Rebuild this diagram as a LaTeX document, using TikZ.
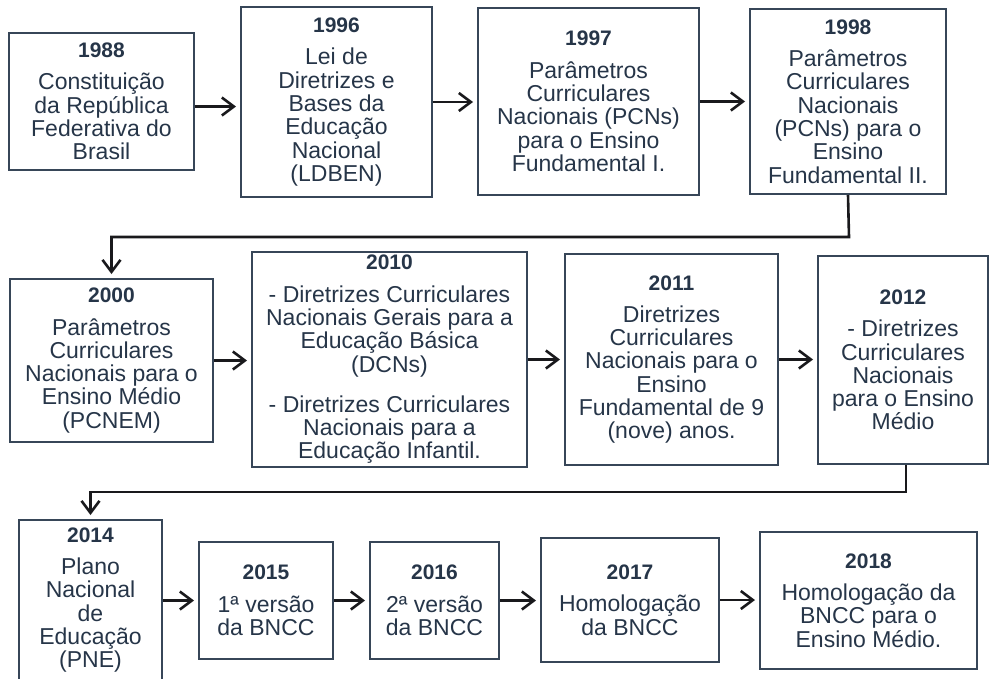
\documentclass[tikz,border=0pt]{standalone}
\usepackage{fontspec}
\setmainfont{Liberation Sans}
\usetikzlibrary{arrows.meta}
\definecolor{bordercol}{RGB}{55,70,88}
\definecolor{textcol}{RGB}{38,53,72}
\definecolor{arrowcol}{RGB}{25,25,28}
\newcommand{\yr}[1]{{\fontsize{21}{23.5}\selectfont\bfseries #1}\\[9pt]}
\begin{document}
\begin{tikzpicture}[x=1pt,y=-1pt,
  box/.style={draw=bordercol, line width=2pt, text=textcol, align=center,
    inner sep=0pt, font=\fontsize{23}{23.3}\selectfont},
  arr/.style={draw=arrowcol, line width=2.6pt,
    -{Straight Barb[length=12pt,width=18pt,line width=2.6pt]}, shorten >=4pt}]
\useasboundingbox (0,0) rectangle (992,678);
\clip (0,0) rectangle (992,678);
% row 1
\node[box, minimum width=185, minimum height=137] (n1988) at (101.5,101.5)
  {\yr{1988}Constituição\\da República\\Federativa do\\Brasil};
\node[box, minimum width=191, minimum height=190] (n1996) at (336.5,102)
  {\yr{1996}Lei de\\Diretrizes e\\Bases da\\Educação\\Nacional\\(LDBEN)};
\node[box, minimum width=221, minimum height=187] (n1997) at (588.5,101.5)
  {\yr{1997}Parâmetros\\Curriculares\\Nacionais (PCNs)\\para o Ensino\\Fundamental I.};
\node[box, minimum width=196, minimum height=185] (n1998) at (848,101.5)
  {\yr{1998}Parâmetros\\Curriculares\\Nacionais\\(PCNs) para o\\Ensino\\Fundamental II.};
% row 2
\node[box, minimum width=203, minimum height=163] (n2000) at (111.5,360.5)
  {\yr{2000}Parâmetros\\Curriculares\\Nacionais para o\\Ensino Médio\\(PCNEM)};
\node[box, minimum width=275, minimum height=215] (n2010) at (389.5,359.5)
  {\yr{2010}- Diretrizes Curriculares\\Nacionais Gerais para a\\Educação Básica\\(DCNs)\\[17pt]- Diretrizes Curriculares\\Nacionais para a\\Educação Infantil.};
\node[box, minimum width=213, minimum height=211] (n2011) at (671.5,359.5)
  {\yr{2011}Diretrizes\\Curriculares\\Nacionais para o\\Ensino\\Fundamental de 9\\(nove) anos.};
\node[box, minimum width=170, minimum height=208] (n2012) at (903,360)
  {\yr{2012}- Diretrizes\\Curriculares\\Nacionais\\para o Ensino\\Médio};
% row 3
\node[box, minimum width=143, minimum height=160] (n2014) at (90.5,600)
  {\yr{2014}Plano\\Nacional\\de\\Educação\\(PNE)};
\node[box, minimum width=134, minimum height=117] (n2015) at (266,600.5)
  {\yr{2015}1ª versão\\da BNCC};
\node[box, minimum width=129, minimum height=117] (n2016) at (434.5,600.5)
  {\yr{2016}2ª versão\\da BNCC};
\node[box, minimum width=178, minimum height=124] (n2017) at (630,600)
  {\yr{2017}Homologação\\da BNCC};
\node[box, minimum width=217, minimum height=137] (n2018) at (868.5,600.5)
  {\yr{2018}Homologação da\\BNCC para o\\Ensino Médio.};
% connectors
\coordinate (r1) at (849,237);
\coordinate (r2) at (906,492);
\draw[arr] ([yshift=-5pt]n1988.east) -- ([yshift=-5pt]n1988.east -| n1996.west);
\draw[arr] (n1996.east) -- (n1996.east -| n1997.west);
\draw[arr] (n1997.east) -- (n1997.east -| n1998.west);
\draw[arr] (n1998.south) -- (r1) -| (n2000.north);
\draw[arr] (n2000.east) -- (n2000.east -| n2010.west);
\draw[arr] (n2010.east) -- (n2010.east -| n2011.west);
\draw[arr] (n2011.east) -- (n2011.east -| n2012.west);
\draw[arr] (n2012.south -| r2) -- (r2) -| (n2014.north);
\draw[arr] (n2014.east |- n2015.west) -- (n2015.west);
\draw[arr] (n2015.east) -- (n2016.west);
\draw[arr] (n2016.east) -- (n2016.east -| n2017.west);
\draw[arr] (n2017.east) -- (n2017.east -| n2018.west);
\end{tikzpicture}
\end{document}
